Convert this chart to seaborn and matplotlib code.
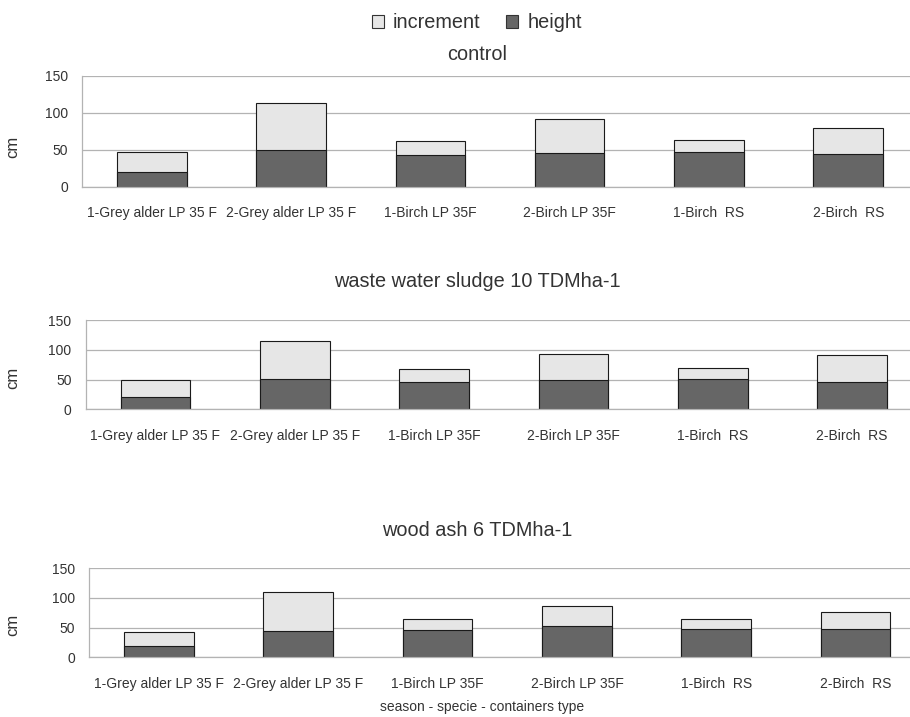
import matplotlib
matplotlib.use("Agg")
import matplotlib.pyplot as plt
import seaborn as sns
from matplotlib.patches import Patch

# categories on the x axis (same for all three panels)
categories = ["1-Grey alder LP 35 F", "2-Grey alder LP 35 F", "1-Birch LP 35F",
              "2-Birch LP 35F", "1-Birch  RS", "2-Birch  RS"]

# dark part of each bar = height, light part on top = increment (cm)
control_height = [19.5, 49.5, 42.5, 45.0, 46.8, 43.6]
control_increment = [27.0, 63.0, 19.3, 46.0, 16.2, 35.2]
sludge_height = [21.5, 50.5, 45.5, 48.5, 50.5, 45.3]
sludge_increment = [27.0, 64.5, 21.5, 45.0, 18.3, 45.2]
ash_height = [18.5, 43.5, 45.5, 52.0, 47.5, 47.2]
ash_increment = [23.5, 67.0, 18.5, 35.0, 16.5, 29.8]

titles = ["control", "waste water sludge 10 TDMha-1", "wood ash 6 TDMha-1"]

sns.set_style("white")
plt.rcParams["font.family"] = ["Liberation Sans", "DejaVu Sans"]

text_col = "#333333"
grid_col = "#b3b3b3"
light = "#e6e6e6"
dark = "#666666"

W, H = 910, 717
fig = plt.figure(figsize=(W / 100, H / 100), dpi=100)

# axes boxes in pixels: left, top, bottom
boxes = [(82, 75.7, 186.7), (85.7, 320, 409.3), (89.3, 568.3, 657.3)]
title_y = [54, 281.7, 530]
ylab_y = [146.7, 378, 625]
data = [(control_height, control_increment),
        (sludge_height, sludge_increment),
        (ash_height, ash_increment)]

for i, (left, top, bot) in enumerate(boxes):
    ax = fig.add_axes([left / W, 1 - bot / H, 836 / W, (bot - top) / H])
    heights, incs = data[i]
    totals = [h + n for h, n in zip(heights, incs)]
    sns.barplot(x=categories, y=totals, color=light, saturation=1, width=0.5,
                edgecolor="#1a1a1a", linewidth=0.8, ax=ax)
    sns.barplot(x=categories, y=heights, color=dark, saturation=1, width=0.5,
                edgecolor="#1a1a1a", linewidth=0.8, ax=ax)
    ax.set_xlim(-0.5, 5.5)
    ax.set_ylim(0, 150)
    ax.set_yticks([0, 50, 100, 150])
    ax.set_axisbelow(True)
    ax.yaxis.grid(True, color=grid_col, lw=0.9)
    for s in ["top", "right"]:
        ax.spines[s].set_visible(False)
    for s in ["left", "bottom"]:
        ax.spines[s].set_color(grid_col)
        ax.spines[s].set_linewidth(0.9)
    ax.set_xticks([x - 0.5 for x in range(6)], minor=True)
    ax.tick_params(axis="x", which="major", length=0, pad=14,
                   labelsize=10, labelcolor=text_col)
    ax.tick_params(axis="x", which="minor", length=7.2, width=0.8, color=grid_col)
    ax.tick_params(axis="y", length=7.2, width=0.8, color=grid_col, pad=3,
                   labelsize=10, labelcolor=text_col)
    ax.set_xlabel("")
    ax.set_ylabel("cm", fontsize=12, color=text_col)
    ax.yaxis.set_label_coords(20 / W, 1 - ylab_y[i] / H, transform=fig.transFigure)
    fig.text(477 / W, 1 - title_y[i] / H, titles[i], ha="center", va="center",
             fontsize=14.3, color=text_col)

fig.text(482 / W, 1 - 706.7 / H, "season - specie - containers type",
         ha="center", va="center", fontsize=10, color=text_col)

handles = [Patch(facecolor=light, edgecolor="#333333", lw=0.8),
           Patch(facecolor=dark, edgecolor="#333333", lw=0.8)]
leg = fig.legend(handles, ["increment", "height"], loc="center",
                 bbox_to_anchor=(477 / W, 1 - 23 / H), ncol=2, frameon=False,
                 fontsize=14.3, handlelength=0.6, handleheight=0.6,
                 handletextpad=0.45, columnspacing=1.3, labelcolor=text_col)

fig.savefig("out.png", dpi=100)
